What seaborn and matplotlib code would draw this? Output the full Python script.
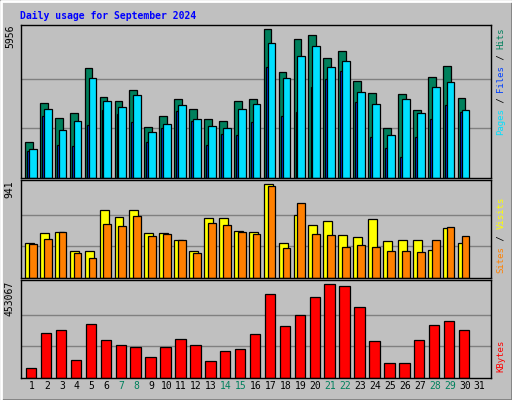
"""Webalizer-style daily usage chart for September 2024."""

import matplotlib

matplotlib.use("Agg")
import matplotlib.pyplot as plt  # noqa: E402
import seaborn as sns            # noqa: E402
from matplotlib.patches import Rectangle  # noqa: E402

DAYS = list(range(1, 32))
WEEKENDS = [7, 8, 14, 15, 21, 22, 28, 29]

HITS = [1428, 3004, 2398, 2600, 4418, 3246, 3085, 3529, 2034, 2478, 3165, 2761, 2357, 2276, 3085,
        3165, 5956, 4257, 5550, 5711, 4822, 5105, 3893, 3408, 1994, 3368, 2721, 4054, 4499, 3206]
PAGES = [1145, 2761, 1913, 2276, 4014, 3085, 2842, 3327, 1832, 2155, 2923, 2357, 2074, 1994, 2761,
         2963, 5428, 4014, 4903, 5307, 4459, 4701, 3448, 2963, 1711, 3165, 2600, 3650, 3852, 2721]
FILES = [1064, 2478, 1307, 1266, 2115, 2721, 2559, 2236, 1428, 1994, 2681, 2276, 1307, 1751, 1711,
         2236, 4459, 2478, 2640, 3650, 3974, 4297, 3044, 1630, 1185, 822, 1630, 2357, 2923, 2640]
VISITS = [348, 450, 460, 266, 266, 685, 614, 685, 450, 450, 378, 266, 604, 604, 471,
          460, 941, 348, 634, 532, 573, 430, 409, 593, 368, 378, 378, 276, 501, 348]
SITES = [338, 389, 460, 246, 194, 542, 522, 624, 419, 440, 378, 246, 552, 532, 460,
         440, 921, 297, 757, 440, 430, 307, 327, 307, 266, 266, 256, 378, 512, 419]
KBYTES = [46298, 214955, 229837, 85982, 259600, 185192, 160390, 150469, 100864, 150469,
          190153, 160390, 81022, 130627, 140548, 209995, 408415, 249679, 304244, 393533,
          453067, 443138, 343928, 180232, 71101, 71101, 185192, 254639, 274481, 229837]

BG = "#c0c0c0"
MONO = "DejaVu Sans Mono"

sns.set_style("white")
fig = plt.figure(figsize=(5.12, 4.0), dpi=100, facecolor=BG)

# raised 3D frame around the image
fig.add_artist(Rectangle((0, 0), 1, 1, transform=fig.transFigure, fill=False,
                         edgecolor="#808080", linewidth=2))
fig.add_artist(plt.Line2D([0.002, 0.002, 0.998], [0.002, 0.998, 0.998],
                          transform=fig.transFigure, color="white", linewidth=2))


def px_axes(top, bottom):
    left, right = 20.5, 490.7
    return fig.add_axes([left / 512, 1 - bottom / 400, (right - left) / 512, (bottom - top) / 400])


def style(ax, ymax, label):
    ax.set_facecolor(BG)
    ax.set_xlim(-0.77, 30.74)
    ax.set_ylim(0, ymax)
    for frac in (1 / 3, 2 / 3):
        ax.axhline(ymax * 0.97 * frac, color="#808080", linewidth=1, zorder=0)
    ax.set_xticks([])
    ax.set_yticks([])
    ax.set_xlabel("")
    ax.set_ylabel("")
    for s in ax.spines.values():
        s.set_color("black")
        s.set_linewidth(1)
    ax.text(-0.012, 1.0, label, transform=ax.transAxes, rotation=90, ha="right", va="top",
            family=MONO, fontsize=7, color="black")


x = [d - 1 for d in DAYS[:30]]
ek = dict(edgecolor="black", linewidth=0.9)

ax1 = px_axes(24.7, 178)
ax1.bar([i - 0.21 for i in x], HITS, width=0.52, color="#00805c", **ek)
ax1.bar([i - 0.27 for i in x], FILES, width=0.13, color="#0040ff", **ek)
ax1.bar([i + 0.05 for i in x], PAGES, width=0.52, color="#00e0ff", **ek)
style(ax1, 6142, "5956")

ax2 = px_axes(180, 277.7)
ax2.bar([i - 0.17 for i in x], VISITS, width=0.6, color="#ffff00", **ek)
ax2.bar([i + 0.05 for i in x], SITES, width=0.52, color="#ff8000", **ek)
style(ax2, 985, "941")

ax3 = px_axes(280.3, 377.7)
sns.barplot(x=[i - 0.05 for i in x], y=KBYTES, native_scale=True, width=0.7,
            color="#ff0000", saturation=1, ax=ax3, **ek)
style(ax3, 472900, "453067")

# day labels
for d in DAYS:
    ax3.text(d - 1, -0.03, str(d), transform=ax3.get_xaxis_transform(), ha="center", va="top",
             family=MONO, fontsize=7, color="#00805c" if d in WEEKENDS else "black")

fig.text(20 / 512, 1 - 16 / 400, "Daily usage for September 2024", family=MONO,
         fontsize=7, fontweight="bold", color="#0000ff", ha="left", va="center")

# vertical right-hand legends, multicoloured pieces stacked from the top
CH = 5.4


def right_legend(top_px, pieces):
    total = sum(len(t) for t, _ in pieces)
    k = 0
    for text, col in pieces:
        bottom = top_px + (total - k) * CH
        fig.text(501 / 512, 1 - bottom / 400, text, rotation=90, ha="center", va="bottom",
                 family=MONO, fontsize=6.5, color=col)
        k += len(text)


right_legend(27, [("Pages", "#00e0ff"), (" / ", "black"), ("Files", "#0040ff"),
                  (" / ", "black"), ("Hits", "#00805c")])
right_legend(197, [("Sites", "#ff8000"), (" / ", "black"), ("Visits", "#ffff00")])
right_legend(340, [("KBytes", "#ff0000")])

fig.savefig("out.png", dpi=100, facecolor=BG)
